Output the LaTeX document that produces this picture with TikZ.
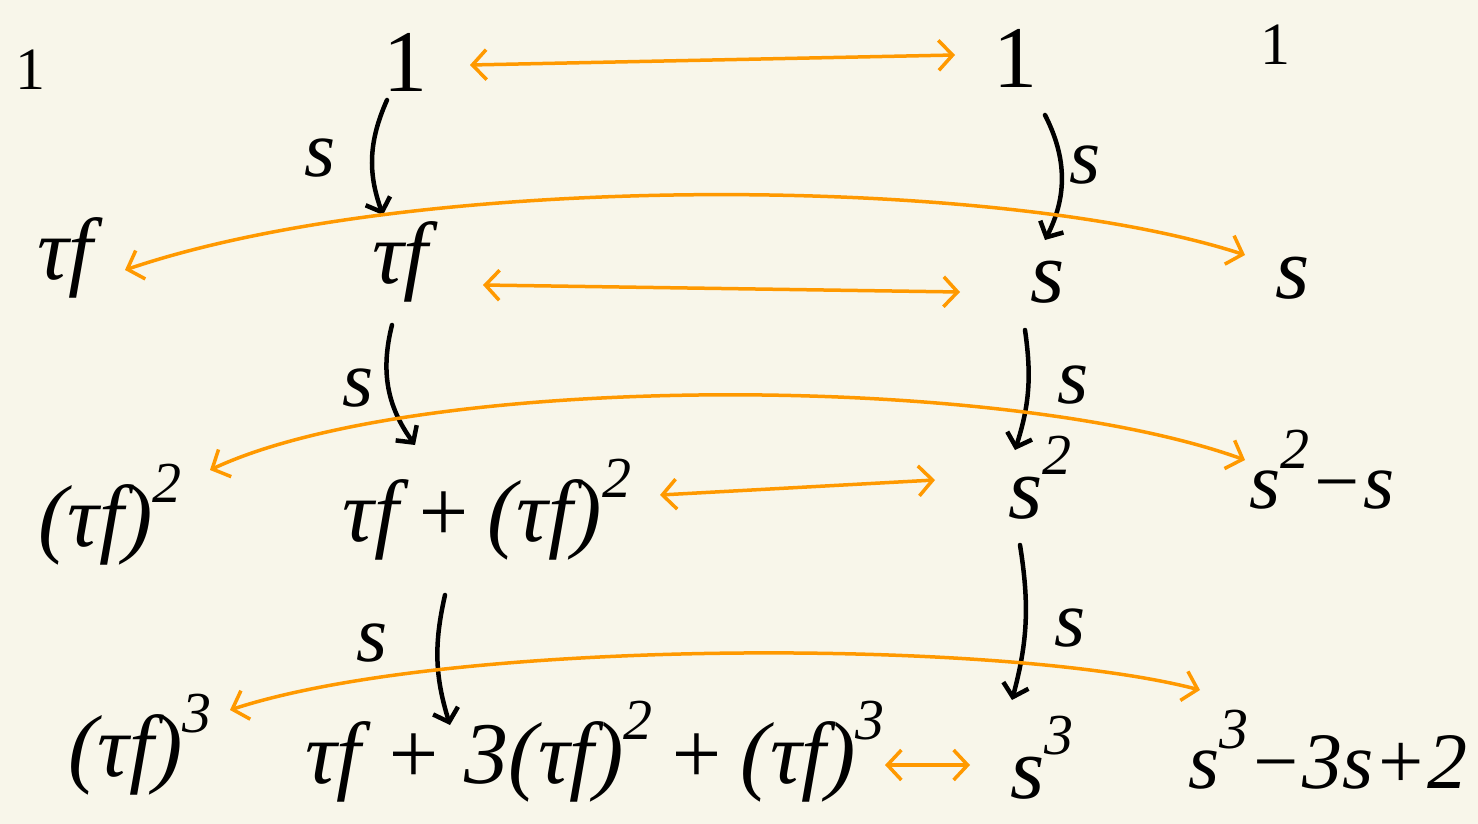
\documentclass[tikz,border=0pt]{standalone}
\usepackage{fontspec}
\setmainfont{Liberation Serif}
\usetikzlibrary{arrows.meta,calc}
\definecolor{bg}{RGB}{248,246,234}
\definecolor{org}{RGB}{255,153,0}
\newcommand{\sq}[1]{\raisebox{0.5em}{\fontsize{58}{62}\selectfont #1}}
\tikzset{
  every node/.style={inner sep=0pt, font=\fontsize{88}{96}\selectfont\itshape},
  upone/.style={font=\fontsize{88}{96}\selectfont},
  smallone/.style={font=\fontsize{60}{66}\selectfont},
  farright/.style={font=\fontsize{80}{88}\selectfont\itshape},
  lbl/.style={font=\fontsize{80}{88}\selectfont\itshape},
  blk/.style={line width=4.5pt, line cap=round, -{Straight Barb[length=12pt,width=26pt,line width=4.5pt]}},
  orl/.style={draw=org, line width=3.5pt, line cap=round,
    {Straight Barb[length=14pt,width=30pt,line width=3.5pt]}-{Straight Barb[length=14pt,width=30pt,line width=3.5pt]}}
}
\begin{document}
\begin{tikzpicture}[x=1pt,y=-1pt]
\fill[bg] (0,0) rectangle (1478,824);
\useasboundingbox (0,0) rectangle (1478,824);
% left column
\node[smallone] (l0) at (30,70) {1};
\node (l1) at (65,258) {τf};
\node (l2) at (110,515) {(τf)\sq{2}};
\node (l3) at (140,745) {(τf)\sq{3}};
% middle column
\node[upone] (m0) at (405,62) {1};
\node (m1) at (400,262) {τf};
\node (m2) at (487,510) {τf\,+\,(τf)\sq{2}};
\node (m3) at (595,752) {τf + 3(τf)\sq{2}\,+\,(τf)\sq{3}};
% right column
\node[upone] (r0) at (1015,58) {1};
\node (r1) at (1048,282) {s};
\node (r2) at (1040,478) {s\sq{2}};
\node (r3) at (1042,758) {s\sq{3}};
% far right
\node[smallone] (f0) at (1275,45) {1};
\node (f1) at (1293,278) {s};
\node[farright] (f2) at (1322,470) {s\sq{2}−s};
\node[farright] (f3) at (1328,750) {s\sq{3}−3s+2};
% s labels
\node[lbl] (s1) at (320,158) {s};
\node[lbl] (s2) at (358,388) {s};
\node[lbl] (s3) at (372,643) {s};
\node[lbl] (s4) at (1085,165) {s};
\node[lbl] (s5) at (1073,385) {s};
\node[lbl] (s6) at (1070,628) {s};
% black arrows
\draw[blk] ([shift={(-18,38)}]m0.center) to[bend right=22] ([shift={(-17,-47)}]m1.center);
\draw[blk] ([shift={(-8,63)}]m1.center) to[bend right=25] ([shift={(-72,-65)}]m2.center);
\draw[blk] ([shift={(-42,85)}]m2.center) to[bend right=15] ([shift={(-145,-27)}]m3.center);
\draw[blk] ([shift={(30,57)}]r0.center) to[bend left=27] ([shift={(-3,-42)}]r1.center);
\draw[blk] ([shift={(-23,48)}]r1.center) to[bend left=13] ([shift={(-25,-28)}]r2.center);
\draw[blk] ([shift={(-20,67)}]r2.center) to[bend left=12] ([shift={(-30,-58)}]r3.center);
% orange double arrows, same row
\draw[orl] ([shift={(65,3)}]m0.center) -- ([shift={(-60,-3)}]r0.center);
\draw[orl] ([shift={(83,23)}]m1.center) -- ([shift={(-88,10)}]r1.center);
\draw[orl] ([shift={(173,-15)}]m2.center) -- ([shift={(-105,2)}]r2.center);
\draw[orl] ([shift={(290,13)}]m3.center) -- ([shift={(-72,7)}]r3.center);
% long orange double arrows
\draw[orl] ([shift={(60,12)}]l1.center) .. controls (420,170) and (1000,175) .. ([shift={(-48,-23)}]f1.center);
\draw[orl] ([shift={(100,-45)}]l2.center) .. controls (420,372) and (1000,372) .. ([shift={(-77,-10)}]f2.center);
\draw[orl] ([shift={(90,-35)}]l3.center) .. controls (450,638) and (1000,638) .. ([shift={(-128,-60)}]f3.center);
\end{tikzpicture}
\end{document}
